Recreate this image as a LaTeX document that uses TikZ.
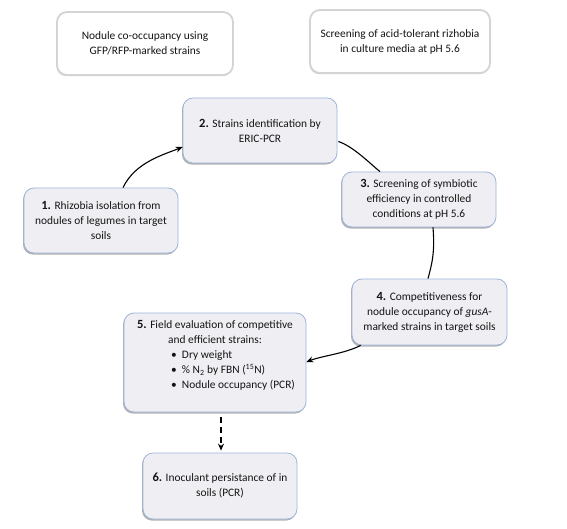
\documentclass[tikz,border=0pt]{standalone}
\usepackage{fontspec}
\setmainfont{Carlito}
\usetikzlibrary{shadows,calc,arrows.meta}
\definecolor{boxfill}{HTML}{EFEFF3}
\definecolor{boxline}{HTML}{9EB3DA}
\definecolor{topline}{HTML}{D4D4D4}
\definecolor{txt}{HTML}{141414}
\newcommand{\stepnum}[1]{{\fontsize{12.5}{15}\selectfont\bfseries #1}}
\begin{document}
\begin{tikzpicture}[x=1pt,y=-1pt,
  every node/.style={font=\fontsize{11.4}{15}\selectfont, text=txt, align=center},
  stepbox/.style={draw=boxline, line width=0.8pt, fill=boxfill, rounded corners=10pt, inner sep=0pt,
    drop shadow={shadow xshift=-1pt, shadow yshift=-1.6pt, opacity=0.3, fill=black}},
  topbox/.style={draw=topline, line width=1.8pt, fill=white, rounded corners=10pt, inner sep=0pt,
    drop shadow={shadow xshift=-0.6pt, shadow yshift=-1.2pt, opacity=0.2, fill=black}},
  conn/.style={line width=1.1pt, black},
  tip/.style={-{Stealth[length=7pt,width=6pt]}}]
\useasboundingbox (0,0) rectangle (567,529);
\node[topbox, minimum width=176pt, minimum height=63pt] (t1) at (145,43.5)
  {Nodule co-occupancy using\\GFP/RFP-marked strains};
\node[topbox, minimum width=180pt, minimum height=63pt] (t2) at (400,41.5)
  {Screening of acid-tolerant rizhobia\\in culture media at pH 5.6};
\node[stepbox, minimum width=154pt, minimum height=65pt] (n2) at (260,130.5)
  {\stepnum{2.} Strains identification by\\ERIC-PCR};
\node[stepbox, minimum width=154pt, minimum height=55pt] (n3) at (419,199.5)
  {\stepnum{3.} Screening of symbiotic\\efficiency in controlled\\conditions at pH 5.6};
\node[stepbox, minimum width=154pt, minimum height=65pt] (n1) at (101,220.5)
  {\stepnum{1.} Rhizobia isolation from\\nodules of legumes in target\\soils};
\node[stepbox, minimum width=155pt, minimum height=66pt] (n4) at (429.5,312)
  {\stepnum{4.} Competitiveness for\\nodule occupancy of \textit{gusA}-\\marked strains in target soils};
\node[stepbox, minimum width=182pt, minimum height=99pt] (n5) at (215,362.5)
  {\stepnum{5.} Field evaluation of competitive\\and efficient strains:\\
   \makebox[88pt][l]{\makebox[11pt][l]{•}Dry weight}\\
   \makebox[88pt][l]{\makebox[11pt][l]{•}\% N\textsubscript{2} by FBN (\textsuperscript{15}N)}\\
   \makebox[88pt][l]{\makebox[11pt][l]{•}Nodule occupancy (PCR)}\\[-4pt]\strut};
\node[stepbox, minimum width=154pt, minimum height=66pt] (n6) at (220,486)
  {\stepnum{6.} Inoculant persistance of in\\soils (PCR)};
% connectors
\draw[conn, tip] ($(n1.north)+(22,0)$) .. controls +(12,-25) and +(-20,8) .. ($(n2.west)+(0,16.5)$);
\draw[conn] ($(n2.east)+(1,11)$) .. controls +(15,5) and +(-10,-8) .. ($(n3.north)+(-39,0)$);
\draw[conn] ($(n3.south)+(14,0)$) .. controls +(2,25) and +(4,-15) .. ($(n4.north)+(-1.5,0)$);
\draw[conn, tip] ($(n4.south west)+(9,0)$) .. controls +(-15,8) and +(15,-6) .. ($(n5.east)+(0,-0.5)$);
\draw[conn, tip, dashed, dash pattern=on 6pt off 4pt] ($(n5.south)+(6,5)$) -- ($(n6.north)+(1,-2)$);
\end{tikzpicture}
\end{document}
